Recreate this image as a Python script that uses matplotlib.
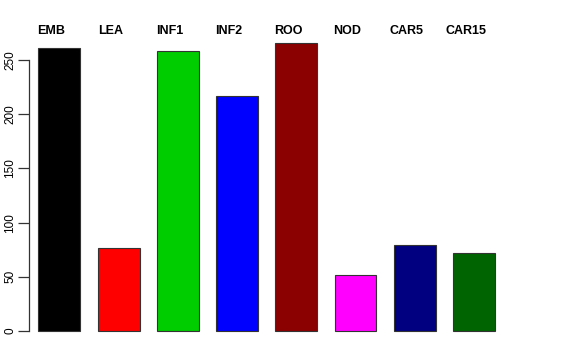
import matplotlib
matplotlib.use("Agg")
import matplotlib.pyplot as plt
import matplotlib.transforms as mtransforms

categories = ["EMB", "LEA", "INF1", "INF2", "ROO", "NOD", "CAR5", "CAR15"]
values = [261, 77, 258, 217, 266, 51.5, 79, 72]
colors = ["#000000", "#FF0000", "#00CD00", "#0000FF", "#8B0000", "#FF00FF", "#000080", "#006400"]
yticks = [0, 50, 100, 150, 200, 250]

plt.rcParams['font.family'] = ['Liberation Sans', 'DejaVu Sans']

W, H = 576, 360
fig = plt.figure(figsize=(W / 100, H / 100), dpi=100)
left_px, right_px, top_px, bottom_px = 29.3, 560, 31, 342
ax = fig.add_axes([left_px / W, (H - bottom_px) / H, (right_px - left_px) / W, (bottom_px - top_px) / H])

pxu_x = 59.24
pxu_y = 1.084
x = list(range(len(categories)))
ax.bar(x, values, width=0.708, color=colors, edgecolor="#333333", linewidth=0.8)

ax.set_xlim(-(59.3 - left_px) / pxu_x, 7 + (right_px - 474) / pxu_x)
ax.set_ylim(-(bottom_px - 331) / pxu_y, (331 - top_px) / pxu_y)

for s in ["top", "right", "bottom"]:
    ax.spines[s].set_visible(False)
ax.spines["left"].set_bounds(0, 250)
ax.spines["left"].set_linewidth(0.9)
ax.spines["left"].set_color("#333333")
ax.set_xticks([])
ax.set_yticks(yticks)
ax.set_yticklabels([str(t) for t in yticks], rotation=90, va="center", fontsize=8.5)
ax.tick_params(axis="y", length=8, width=0.9, color="#333333", pad=1.5)

trans = mtransforms.blended_transform_factory(ax.transData, ax.transAxes)
for i, lab in enumerate(categories):
    ax.text(i - 8 / pxu_x, 1.0, lab, transform=trans, ha="center", va="center",
            fontsize=9, fontweight="bold", clip_on=False)

fig.savefig("out.png", dpi=100)
